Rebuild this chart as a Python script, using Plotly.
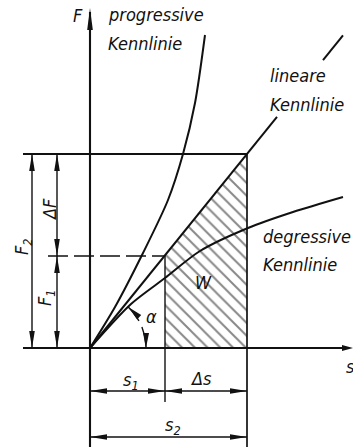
import math
import plotly.graph_objects as go

# Spring travel s and spring force F (drawing units)
s1, s2 = 7.5, 15.7
F1, F2 = 9.2, 19.4

# linear characteristic: straight line through the origin and (s2, F2)
lin_s_lower = [0.0, 18.7]
lin_s_upper = [23.3, 25.3]

# progressive characteristic
prog_s = [0.0, 2.5, 5.3, 7.8, 9.3, 10.5, 11.5]
prog_F = [0.0, 4.1, 9.5, 14.8, 19.4, 24.5, 31.3]

# degressive characteristic
deg_s = [0.0, 4.1, 7.5, 11.0, 15.8, 20.3, 25.3]
deg_F = [0.0, 4.4, 7.0, 9.7, 12.0, 13.6, 15.1]

k = F2 / s2
INK = "#111111"
FONT = dict(family="DejaVu Sans Condensed, DejaVu Sans", size=18, color=INK, style="italic")

fig = go.Figure()
shapes = []


def seg(x0, y0, x1, y1, w=1.4, dash=None):
    line = dict(color=INK, width=w)
    if dash:
        line["dash"] = dash
    shapes.append(dict(type="line", xref="x", yref="y", x0=x0, y0=y0, x1=x1, y1=y1, line=line, layer="above"))


def head(tx, ty, dx, dy, length=1.7, half=0.28):
    n = math.hypot(dx, dy)
    ux, uy = dx / n, dy / n
    bx, by = tx - ux * length, ty - uy * length
    px, py = -uy * half, ux * half
    path = f"M{tx},{ty} L{bx + px},{by + py} L{bx - px},{by - py} Z"
    shapes.append(dict(type="path", xref="x", yref="y", path=path, fillcolor=INK, line=dict(width=0), layer="above"))


def dimension(a, b, fixed, vertical):
    if vertical:
        seg(fixed, a, fixed, b)
        head(fixed, a, 0, -1)
        head(fixed, b, 0, 1)
    else:
        seg(a, fixed, b, fixed)
        head(a, fixed, -1, 0)
        head(b, fixed, 1, 0)


# hatched work area W between s1 and s2
fig.add_trace(go.Scatter(
    x=[s1, s1, s2, s2, s1], y=[0, k * s1, F2, 0, 0],
    mode="lines", line=dict(width=0), fill="toself", fillcolor="rgba(0,0,0,0)",
    fillpattern=dict(shape="\\", size=9, solidity=0.22, fgcolor=INK, bgcolor="white"),
    hoverinfo="skip", showlegend=False))

# characteristics
fig.add_trace(go.Scatter(x=prog_s, y=prog_F, mode="lines",
                         line=dict(color=INK, width=2, shape="spline", smoothing=0.8), showlegend=False))
fig.add_trace(go.Scatter(x=deg_s, y=deg_F, mode="lines",
                         line=dict(color=INK, width=2, shape="spline", smoothing=0.8), showlegend=False))
for part in (lin_s_lower, lin_s_upper):
    fig.add_trace(go.Scatter(x=part, y=[k * v for v in part], mode="lines",
                             line=dict(color=INK, width=2), showlegend=False))

# axes
seg(0, -9.9, 0, 33.6, w=2.1)
head(0, 34.0, 0, 1, length=2.2, half=0.28)
seg(-6.7, 0, 25.8, 0, w=2.1)
head(26.3, 0, 1, 0, length=1.1, half=0.3)

# reference lines
seg(-6.7, F2, s2, F2, w=2.1)
seg(s2, -9.9, s2, F2, w=1.7)
seg(s1, -5.4, s1, F1, w=1.4)
seg(-4.2, F1, s1, F1, w=1.4, dash="20px,6px")

# dimension lines
dimension(0, F2, -5.8, True)
dimension(F1, F2, -3.3, True)
dimension(0, F1, -3.3, True)
dimension(0, s1, -4.3, False)
dimension(s1, s2, -4.3, False)
dimension(0, s2, -8.9, False)

# angle arrows
r = 5.6
for a0, a1 in ((29, 47), (22, 0)):
    angs = [math.radians(a0 + (a1 - a0) * i / 12) for i in range(13)]
    xs = [r * math.cos(t) for t in angs]
    ys = [r * math.sin(t) for t in angs]
    fig.add_trace(go.Scatter(x=xs, y=ys, mode="lines", line=dict(color=INK, width=1.4), showlegend=False))
    ta = math.radians(a1)
    sgn = 1 if a1 > a0 else -1
    head(r * math.cos(ta), r * math.sin(ta), -math.sin(ta) * sgn, math.cos(ta) * sgn, length=1.5, half=0.3)


def label(x, y, text, angle=0, xanchor="center"):
    fig.add_annotation(x=x, y=y, xref="x", yref="y", text=text, showarrow=False,
                       font=FONT, textangle=angle, xanchor=xanchor, yanchor="middle")


label(-1.2, 33.3, "F")
label(1.6, 33.4, "progressive", xanchor="left")
label(1.6, 30.5, "Kennlinie", xanchor="left")
label(17.8, 27.3, "lineare", xanchor="left")
label(17.8, 24.4, "Kennlinie", xanchor="left")
label(17.1, 11.2, "degressive", xanchor="left")
label(17.1, 8.4, "Kennlinie", xanchor="left")
label(11.3, 6.6, "W")
label(6.1, 3.2, "α")
label(26.0, -1.8, "s")
label(-6.7, 10.1, "F<sub>2</sub>", angle=-90)
label(-4.1, 13.8, "ΔF", angle=-90)
label(-4.4, 5.0, "F<sub>1</sub>", angle=-90)
label(4.1, -3.3, "s<sub>1</sub>")
label(11.1, -3.0, "Δs")
label(8.3, -7.8, "s<sub>2</sub>")

fig.update_layout(
    width=353, height=447, margin=dict(l=0, r=0, t=0, b=0),
    paper_bgcolor="white", plot_bgcolor="white", shapes=shapes,
    xaxis=dict(range=[-9.0, 26.3], visible=False, fixedrange=True),
    yaxis=dict(range=[-9.9, 34.8], visible=False, fixedrange=True),
)

fig.write_html("out.html")
